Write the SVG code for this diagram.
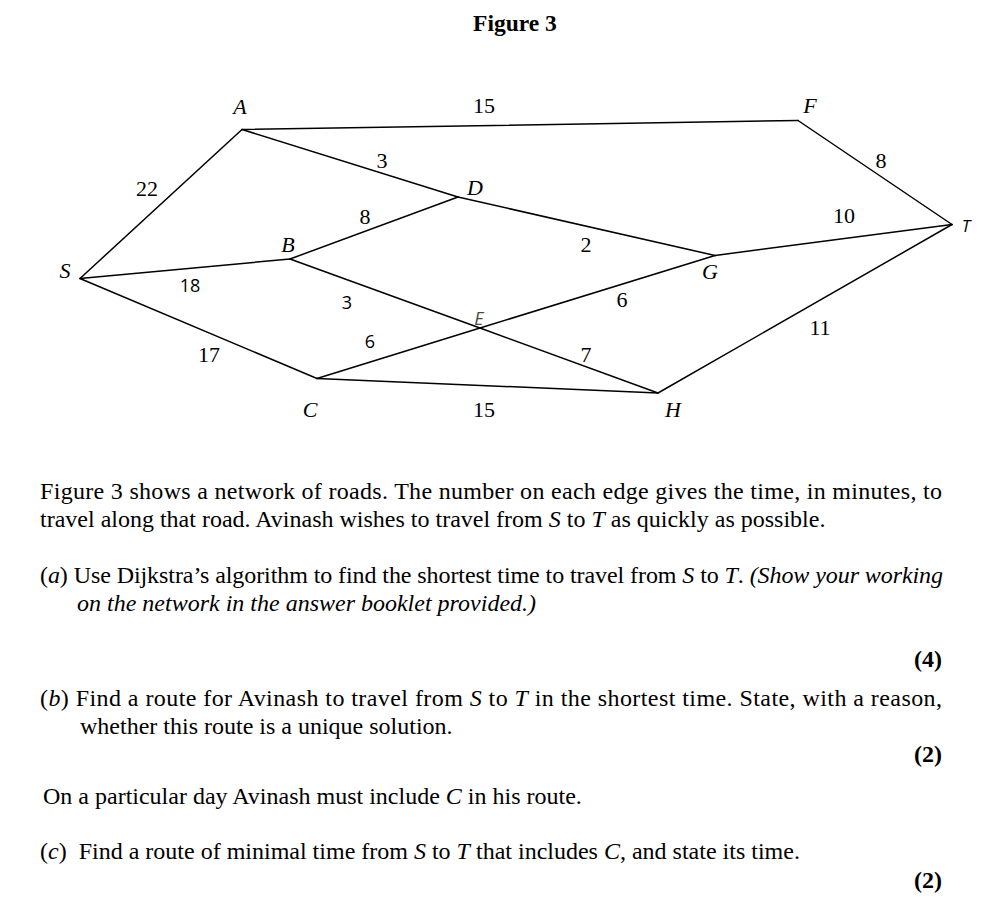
<svg xmlns="http://www.w3.org/2000/svg" width="994" height="898" viewBox="0 0 994 898">
<style>
.e{stroke:#000;stroke-width:1.5;fill:none;stroke-linecap:round}
.n{font-family:"Liberation Serif","Times New Roman",serif;font-style:italic;font-size:22px;fill:#000;text-anchor:middle}
.w{font-family:"Liberation Serif","Times New Roman",serif;font-size:22px;fill:#000;text-anchor:middle}
.s{font-family:"Open Sans","Liberation Sans",sans-serif;font-size:18px;fill:#000;text-anchor:middle}
.t{font-family:"Liberation Serif","Times New Roman",serif;font-size:24px;fill:#000}
.h{font-family:"Liberation Serif","Times New Roman",serif;font-size:23.5px;fill:#000}
.i{font-style:italic}
.b{font-weight:bold}
</style>
<rect width="994" height="898" fill="#fff"/>
<text x="515" y="31" class="h b" text-anchor="middle">Figure 3</text>
<g id="connectors">
<line class="e" x1="80" y1="278.5" x2="242" y2="129.5"/>
<line class="e" x1="80" y1="278.5" x2="290" y2="259"/>
<line class="e" x1="80" y1="278.5" x2="317" y2="378.5"/>
<line class="e" x1="242" y1="129.5" x2="798" y2="120.5"/>
<line class="e" x1="242" y1="129.5" x2="458" y2="197"/>
<line class="e" x1="458" y1="197" x2="715" y2="255.5"/>
<line class="e" x1="290" y1="259" x2="458" y2="197"/>
<line class="e" x1="290" y1="259" x2="480" y2="328"/>
<line class="e" x1="480" y1="328" x2="658" y2="393"/>
<line class="e" x1="317" y1="378.5" x2="480" y2="328"/>
<line class="e" x1="480" y1="328" x2="715" y2="255.5"/>
<line class="e" x1="317" y1="378.5" x2="658" y2="393"/>
<line class="e" x1="715" y1="255.5" x2="952" y2="224.5"/>
<line class="e" x1="798" y1="120.5" x2="952" y2="224.5"/>
<line class="e" x1="658" y1="393" x2="952" y2="224.5"/>
</g>
<g id="weights">
<text class="w" x="147" y="196">22</text>
<text class="s" x="190" y="292">18</text>
<text class="w" x="209" y="362">17</text>
<text class="w" x="484" y="113">15</text>
<text class="w" x="382" y="168">3</text>
<text class="w" x="586" y="252">2</text>
<text class="w" x="365" y="224">8</text>
<text class="s" x="347" y="309">3</text>
<text class="w" x="586" y="362">7</text>
<text class="s" x="370" y="348">6</text>
<text class="w" x="622" y="307">6</text>
<text class="w" x="484" y="417">15</text>
<text class="w" x="844" y="223">10</text>
<text class="w" x="881" y="168">8</text>
<text class="w" x="820" y="335">11</text>
</g>
<g id="node-S"><text class="n" x="65" y="278">S</text></g>
<g id="node-A"><text class="n" x="240" y="114">A</text></g>
<g id="node-B"><text class="n" x="288" y="252">B</text></g>
<g id="node-C"><text class="n" x="310" y="417">C</text></g>
<g id="node-D"><text class="n" x="475" y="195">D</text></g>
<g id="node-E"><text x="479" y="325" text-anchor="middle" font-family="Open Sans, Liberation Sans, sans-serif" font-style="italic" font-size="18" fill="#4a4a4a">E</text></g>
<g id="node-F"><text class="n" x="810" y="113">F</text></g>
<g id="node-G"><text class="n" x="710" y="279">G</text></g>
<g id="node-H"><text class="n" x="673" y="417">H</text></g>
<g id="node-T"><text x="966" y="232" text-anchor="middle" font-family="Open Sans, Liberation Sans, sans-serif" font-style="italic" font-size="17" fill="#000">T</text></g>
<g id="text">
<text class="t" x="40" y="499" textLength="902" lengthAdjust="spacing">Figure 3 shows a network of roads. The number on each edge gives the time, in minutes, to</text>
<text class="t" x="40" y="527">travel along that road. Avinash wishes to travel from <tspan class="i">S</tspan> to <tspan class="i">T</tspan> as quickly as possible.</text>
<text class="t" x="40" y="583" textLength="903" lengthAdjust="spacing">(<tspan class="i">a</tspan>) Use Dijkstra’s algorithm to find the shortest time to travel from <tspan class="i">S</tspan> to <tspan class="i">T</tspan>. <tspan class="i">(Show your working</tspan></text>
<text class="t i" x="77" y="611">on the network in the answer booklet provided.)</text>
<text class="t b" x="942" y="667" text-anchor="end">(4)</text>
<text class="t" x="40" y="706" textLength="902" lengthAdjust="spacing">(<tspan class="i">b</tspan>) Find a route for Avinash to travel from <tspan class="i">S</tspan> to <tspan class="i">T</tspan> in the shortest time. State, with a reason,</text>
<text class="t" x="80" y="734">whether this route is a unique solution.</text>
<text class="t b" x="942" y="762" text-anchor="end">(2)</text>
<text class="t" x="43" y="804">On a particular day Avinash must include <tspan class="i">C</tspan> in his route.</text>
<text class="t" x="40" y="859">(<tspan class="i">c</tspan>)<tspan dx="6"> Find a route of minimal time from </tspan><tspan class="i">S</tspan> to <tspan class="i">T</tspan> that includes <tspan class="i">C</tspan>, and state its time.</text>
<text class="t b" x="942" y="888" text-anchor="end">(2)</text>
</g>
</svg>
